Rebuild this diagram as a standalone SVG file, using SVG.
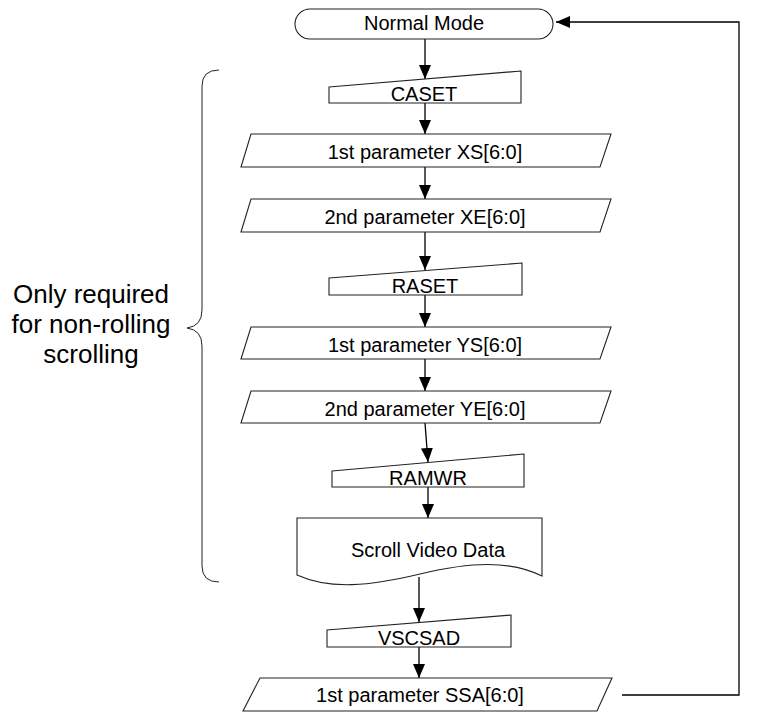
<svg xmlns="http://www.w3.org/2000/svg" width="767" height="720" viewBox="0 0 767 720">
<style>
.n{fill:#fff;stroke:#222;stroke-width:1.1}
.t{font-family:"Liberation Sans",Arial,sans-serif;font-size:20px;fill:#000;text-anchor:middle}
.s{font-family:"Liberation Sans",Arial,sans-serif;font-size:26px;fill:#000;text-anchor:middle}
.c{fill:none;stroke:#000;stroke-width:1.3}
</style>
<defs>
<marker id="ah" markerUnits="userSpaceOnUse" markerWidth="14" markerHeight="14" refX="14" refY="6" orient="auto">
<path d="M0,0 L14,6 L0,12 Z" fill="#000"/>
</marker>
</defs>
<g id="connectors">
<line class="c" x1="425" y1="39" x2="425" y2="79" marker-end="url(#ah)"/>
<line class="c" x1="425" y1="103" x2="425" y2="134" marker-end="url(#ah)"/>
<line class="c" x1="425" y1="167" x2="425" y2="199" marker-end="url(#ah)"/>
<line class="c" x1="425" y1="232" x2="425" y2="270" marker-end="url(#ah)"/>
<line class="c" x1="425" y1="295" x2="425" y2="327" marker-end="url(#ah)"/>
<line class="c" x1="425" y1="359" x2="425" y2="391" marker-end="url(#ah)"/>
<line class="c" x1="425" y1="423" x2="428" y2="462" marker-end="url(#ah)"/>
<line class="c" x1="428" y1="487" x2="428" y2="518" marker-end="url(#ah)"/>
<line class="c" x1="419" y1="577" x2="419" y2="622" marker-end="url(#ah)"/>
<line class="c" x1="419" y1="647" x2="419" y2="678" marker-end="url(#ah)"/>
<polyline class="c" points="622,695 739,695 739,22 556,22" marker-end="url(#ah)"/>
</g>
<g id="brace">
<path d="M219,70 Q202,70 202,86 V310 Q202,326 187,328 Q202,330 202,346 V566 Q202,582 219,582" fill="none" stroke="#222" stroke-width="1"/>
</g>
<g id="note">
<text class="s" x="91" y="303">Only required</text>
<text class="s" x="91" y="333">for non-rolling</text>
<text class="s" x="91" y="363">scrolling</text>
</g>
<g id="normal-mode">
<rect class="n" x="295" y="9" width="258" height="30" rx="15"/>
<text class="t" x="424" y="30">Normal Mode</text>
</g>
<g id="caset">
<polygon class="n" points="329,87 521,71 521,103 329,103"/>
<text class="t" x="424" y="101">CASET</text>
</g>
<g id="xs">
<polygon class="n" points="251,134 611,134 600,167 241,167"/>
<text class="t" x="425" y="159">1st parameter XS[6:0]</text>
</g>
<g id="xe">
<polygon class="n" points="251,199 611,199 600,232 241,232"/>
<text class="t" x="425" y="224">2nd parameter XE[6:0]</text>
</g>
<g id="raset">
<polygon class="n" points="329,278 522,263 522,295 329,295"/>
<text class="t" x="425" y="293">RASET</text>
</g>
<g id="ys">
<polygon class="n" points="251,327 611,327 600,359 241,359"/>
<text class="t" x="425" y="352">1st parameter YS[6:0]</text>
</g>
<g id="ye">
<polygon class="n" points="251,391 611,391 600,423 241,423"/>
<text class="t" x="425" y="416">2nd parameter YE[6:0]</text>
</g>
<g id="ramwr">
<polygon class="n" points="332,471 524,454 524,487 332,487"/>
<text class="t" x="428" y="485">RAMWR</text>
</g>
<g id="scroll-data">
<path class="n" d="M297,518 H542 V576 C510,560 470,562 420,574 C370,586 330,590 297,575 Z"/>
<text class="t" x="428" y="557">Scroll Video Data</text>
</g>
<g id="vscsad">
<polygon class="n" points="327,630 511,615 511,647 327,647"/>
<text class="t" x="419" y="645">VSCSAD</text>
</g>
<g id="ssa">
<polygon class="n" points="260,678 612,678 597,711 243,711"/>
<text class="t" x="420" y="702">1st parameter SSA[6:0]</text>
</g>
</svg>
